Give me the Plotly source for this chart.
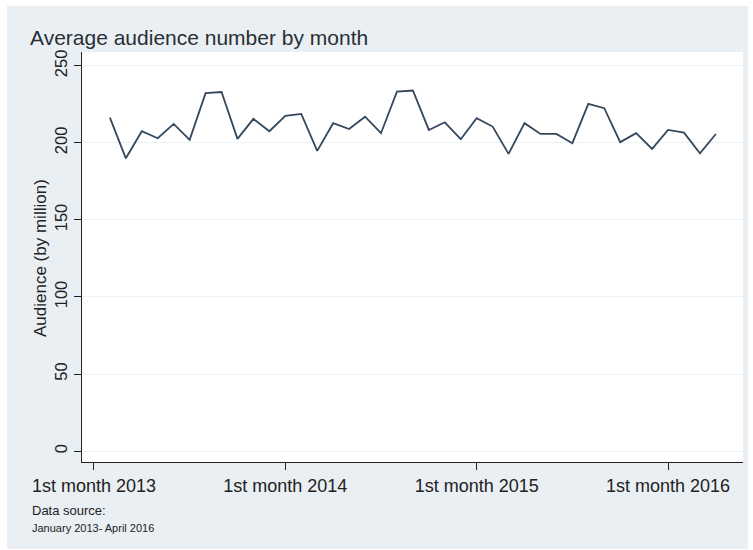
import plotly.graph_objects as go

# Month index (Feb 2013 = 1 ... Apr 2016 = 39) and average audience in millions
month_index = list(range(1, 40))
audience = [
    216.4, 190.0, 207.6, 203.0, 212.3, 202.0, 232.3, 233.0, 202.6, 215.6,
    207.6, 217.5, 218.8, 194.8, 212.8, 209.0, 217.0, 206.3, 233.3, 234.0,
    208.4, 213.4, 202.4, 216.0, 210.6, 192.9, 212.8, 205.8, 205.8, 199.8,
    225.3, 222.5, 200.5, 206.3, 196.1, 208.4, 206.7, 193.3, 205.8,
]

x_tick_vals = [0, 12, 24, 36]
x_tick_text = ["1st month 2013", "1st month 2014", "1st month 2015", "1st month 2016"]
y_tick_vals = [0, 50, 100, 150, 200, 250]

BG = "#E9EFF2"
INK = "#222222"
FONT = "Liberation Sans, Arial, Helvetica, sans-serif"

W, H = 753, 550
L, R, T, B = 82, 10, 52, 88
pw, ph = W - L - R, H - T - B


def px_to_paper_x(px):
    return (px - L) / pw


def px_to_paper_y(py):
    return (H - B - py) / ph


fig = go.Figure()
fig.add_trace(go.Scatter(
    x=month_index, y=audience, mode="lines",
    line=dict(color="#34475c", width=1.8),
    showlegend=False, hoverinfo="x+y",
))

fig.update_layout(
    width=W, height=H,
    margin=dict(l=L, r=R, t=T, b=B),
    paper_bgcolor="white",
    plot_bgcolor="white",
    font=dict(family=FONT, color=INK),
    title=dict(
        text="Average audience number by month",
        x=30 / W, xanchor="left", xref="container",
        y=1 - 38 / H, yanchor="middle", yref="container",
        font=dict(size=21, color="#2a2f36", family=FONT),
    ),
    xaxis=dict(
        range=[-0.75, 40.7],
        tickmode="array", tickvals=x_tick_vals, ticktext=x_tick_text,
        ticks="outside", ticklen=7, tickwidth=1, tickcolor=INK,
        showline=True, linecolor=INK, linewidth=1.2,
        showgrid=False, zeroline=False,
        tickfont=dict(size=18, color=INK, family=FONT),
    ),
    yaxis=dict(
        range=[-7.1, 259],
        tickmode="array", tickvals=y_tick_vals,
        tickangle=-90,
        ticks="outside", ticklen=7, tickwidth=1, tickcolor=INK,
        showline=True, linecolor=INK, linewidth=1.2,
        showgrid=True, gridcolor="#EBF2F4", gridwidth=1,
        zeroline=False,
        tickfont=dict(size=16.5, color=INK, family=FONT),
    ),
    shapes=[
        # light framing panel behind the whole graph
        dict(type="rect", xref="paper", yref="paper", layer="below",
             x0=px_to_paper_x(7), x1=px_to_paper_x(748),
             y0=px_to_paper_y(549), y1=px_to_paper_y(6),
             fillcolor=BG, line=dict(width=0)),
        # white plotting region
        dict(type="rect", xref="paper", yref="paper", layer="below",
             x0=0, x1=1, y0=0, y1=1,
             fillcolor="white", line=dict(width=0)),
    ],
    annotations=[
        dict(text="Audience (by million)", textangle=-90,
             xref="paper", yref="paper",
             x=px_to_paper_x(40), y=px_to_paper_y(258),
             xanchor="center", yanchor="middle", showarrow=False,
             font=dict(size=17, color=INK, family=FONT)),
        dict(text="Data source:", xref="paper", yref="paper",
             x=px_to_paper_x(30), y=px_to_paper_y(510.5),
             xanchor="left", yanchor="middle", showarrow=False,
             font=dict(size=13, color=INK, family=FONT)),
        dict(text="January 2013- April 2016", xref="paper", yref="paper",
             x=px_to_paper_x(30), y=px_to_paper_y(527.5),
             xanchor="left", yanchor="middle", showarrow=False,
             font=dict(size=11, color=INK, family=FONT)),
    ],
)

fig.write_html("out.html")
